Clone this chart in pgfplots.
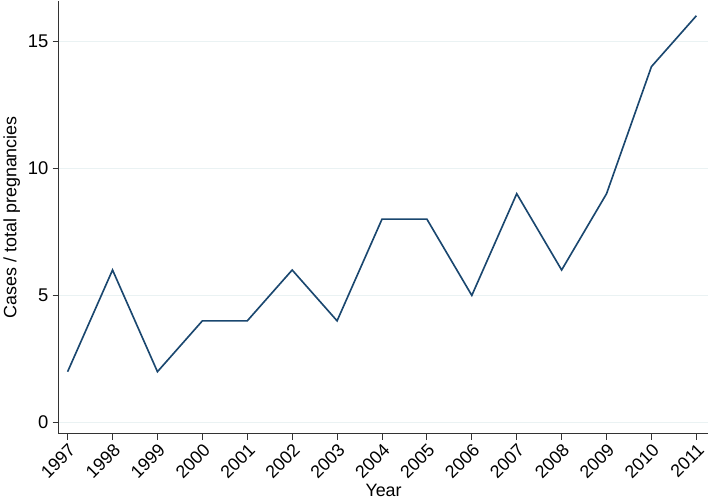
\documentclass[border=0pt]{standalone}
\usepackage{pgfplots}
\pgfplotsset{compat=1.18}
\usepackage{fontspec}
\setmainfont{Liberation Sans}
\definecolor{stline}{HTML}{1A476F}
\definecolor{stgrid}{HTML}{EAF2F3}
\definecolor{staxis}{HTML}{333333}
\begin{document}
\begin{tikzpicture}
\begin{axis}[
  scale only axis,
  width=636pt, height=424pt,
  xmin=1996.8, xmax=2011.27,
  ymin=-0.44, ymax=16.6,
  axis lines*=left,
  every outer x axis line/.append style={-, staxis, line width=1pt},
  every outer y axis line/.append style={-, staxis, line width=1pt},
  axis line style={-},
  xtick={1997,...,2011},
  ytick={0,5,10,15},
  tick align=outside,
  major tick length=6pt,
  tick style={staxis, line width=0.9pt},
  ymajorgrids,
  grid style={stgrid, line width=1pt},
  /pgf/number format/assume math mode=true,
  x tick label style={/pgf/number format/1000 sep={}, rotate=45, anchor=north east, font=\fontsize{17.5}{19}\selectfont, inner sep=1.5pt},
  y tick label style={font=\fontsize{18}{20}\selectfont, inner sep=4pt},
  xlabel={Year},
  ylabel={Cases / total pregnancies},
  label style={font=\fontsize{17.5}{19}\selectfont},
  xlabel style={yshift=1pt},
  ylabel style={yshift=0pt},
  clip=false,
]
\addplot[stline, line width=1.6pt, mark=none] coordinates {
(1997,2) (1998,6) (1999,2) (2000,4) (2001,4) (2002,6) (2003,4) (2004,8)
(2005,8) (2006,5) (2007,9) (2008,6) (2009,9) (2010,14) (2011,16)
};
\end{axis}
\end{tikzpicture}
\end{document}
